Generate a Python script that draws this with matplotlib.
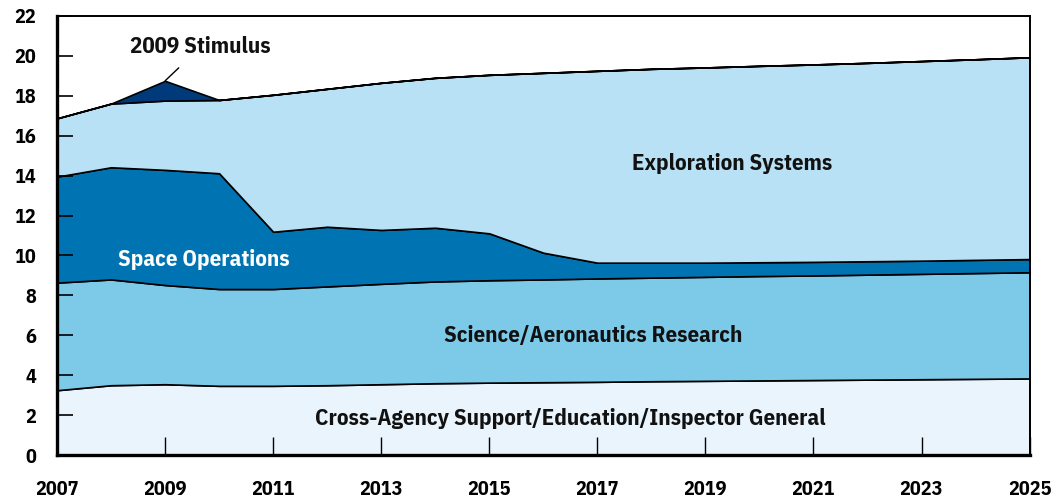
import matplotlib.pyplot as plt
from matplotlib import font_manager

# ---------------------------------------------------------------------------
# Daten (Mrd. USD)
# ---------------------------------------------------------------------------
years = list(range(2007, 2026))

cross_agency = [3.25, 3.50, 3.55, 3.47, 3.47, 3.50, 3.55, 3.60, 3.63, 3.65,
                3.67, 3.70, 3.72, 3.74, 3.76, 3.78, 3.80, 3.82, 3.84]
science = [5.39, 5.30, 4.97, 4.85, 4.85, 4.95, 5.03, 5.10, 5.13, 5.15,
           5.18, 5.19, 5.21, 5.23, 5.24, 5.26, 5.28, 5.30, 5.32]
space_ops = [5.31, 5.62, 5.77, 5.80, 2.87, 2.99, 2.70, 2.69, 2.35, 1.34,
             0.79, 0.75, 0.71, 0.69, 0.68, 0.67, 0.66, 0.66, 0.66]
exploration = [2.92, 3.19, 3.47, 3.67, 6.86, 6.91, 7.37, 7.51, 7.94, 9.01,
               9.61, 9.71, 9.78, 9.84, 9.89, 9.94, 10.00, 10.05, 10.11]
stimulus = [0, 0, 0.99, 0, 0, 0, 0, 0, 0, 0,
            0, 0, 0, 0, 0, 0, 0, 0, 0]

x_ticks = list(range(2007, 2026, 2))
y_ticks = list(range(0, 23, 2))

colors = ["#e9f4fc", "#7ccae8", "#0074b3", "#b8e1f5", "#003a7a"]

# Schrift: schmale fette Sans, sonst DejaVu
names = {f.name for f in font_manager.fontManager.ttflist}
family = ["IBM Plex Sans Condensed"] if "IBM Plex Sans Condensed" in names else []
plt.rcParams["font.family"] = family + ["DejaVu Sans"]
plt.rcParams["font.weight"] = "bold"

fig = plt.figure(figsize=(10.56, 4.99), dpi=100)
ax = fig.add_axes([0.054, 0.088, 0.921, 0.880])

ax.stackplot(years, cross_agency, science, space_ops, exploration, stimulus,
             colors=colors, edgecolor="black", linewidth=1.2)

ax.set_xlim(2007, 2025)
ax.set_ylim(0, 22)
ax.set_xticks(x_ticks)
ax.set_yticks(y_ticks)
ax.tick_params(axis="y", direction="in", length=11.5, width=1.2,
               pad=15, labelsize=14.5)
ax.tick_params(axis="x", direction="in", length=13, width=1.0,
               pad=18, labelsize=14.5)
for lab in ax.get_xticklabels() + ax.get_yticklabels():
    lab.set_fontweight("bold")

for side in ("left", "bottom"):
    ax.spines[side].set_linewidth(2.4)
for side in ("top", "right"):
    ax.spines[side].set_linewidth(1.4)

txt = dict(fontsize=16.5, fontweight="bold", ha="center", va="center")
ax.text(2016.5, 1.85, "Cross-Agency Support/Education/Inspector General", color="#111111", **txt)
ax.text(2016.93, 6.0, "Science/Aeronautics Research", color="#111111", **txt)
ax.text(2009.72, 9.82, "Space Operations", color="white", **txt)
ax.text(2019.5, 14.6, "Exploration Systems", color="#111111", **txt)

ax.annotate("2009 Stimulus", xy=(2009, 18.75), xytext=(2009.66, 20.45),
            arrowprops=dict(arrowstyle="-", color="black", lw=1.0,
                            shrinkA=8, shrinkB=0),
            color="#111111", **txt)

fig.savefig("out.png", dpi=100)
